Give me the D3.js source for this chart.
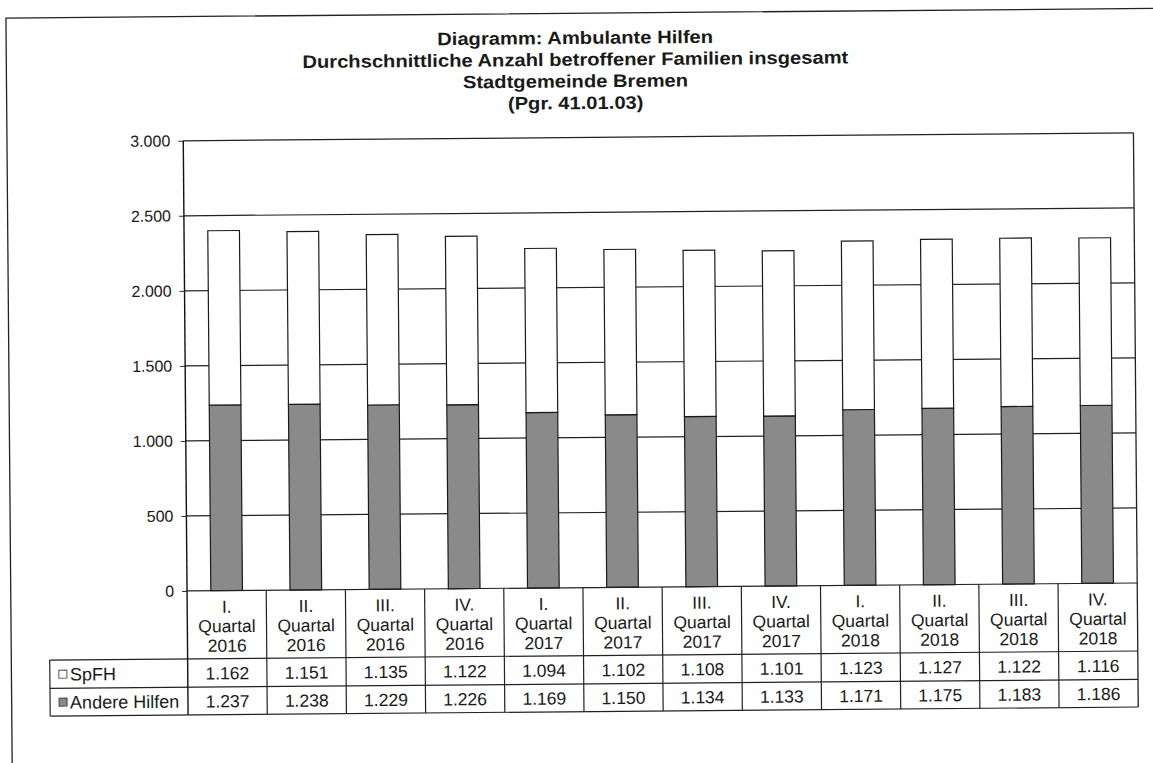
<!DOCTYPE html>
<html>
<head>
<meta charset="utf-8">
<script src="https://cdn.jsdelivr.net/npm/d3@7"></script>
<style>
  html, body { margin: 0; padding: 0; background: #fff; }
  svg { display: block; }
  text { font-family: "Liberation Sans", Arial, sans-serif; fill: #1a1a1a; }
</style>
</head>
<body>
<svg id="chart" width="1153" height="763"></svg>
<script>
var titleLines = [
  "Diagramm: Ambulante Hilfen",
  "Durchschnittliche Anzahl betroffener Familien insgesamt",
  "Stadtgemeinde Bremen",
  "(Pgr. 41.01.03)"
];
var categories = [
  "I. Quartal 2016", "II. Quartal 2016", "III. Quartal 2016", "IV. Quartal 2016",
  "I. Quartal 2017", "II. Quartal 2017", "III. Quartal 2017", "IV. Quartal 2017",
  "I. Quartal 2018", "II. Quartal 2018", "III. Quartal 2018", "IV. Quartal 2018"
];
var spfh   = [1162, 1151, 1135, 1122, 1094, 1102, 1108, 1101, 1123, 1127, 1122, 1116];
var andere = [1237, 1238, 1229, 1226, 1169, 1150, 1134, 1133, 1171, 1175, 1183, 1186];
var seriesNames = ["SpFH", "Andere Hilfen"];
var yTicks = [0, 500, 1000, 1500, 2000, 2500, 3000];

var de = d3.formatLocale({decimal: ",", thousands: ".", grouping: [3], currency: ["", " €"]});
var fmt = de.format(",d");

var grey = "#8a8a8a";

var svg = d3.select("#chart");
// the scan is slightly tilted
var root = svg.append("g").attr("transform", "rotate(-0.48,576,381)");

// outer frame (left + top only visible in the scan)
root.append("path")
  .attr("d", "M9,780V13.3H1170")
  .attr("fill", "none").attr("stroke", "#222").attr("stroke-width", 1.3);

// title (scan is a bit wider than tall, so stretch horizontally)
root.append("g")
  .attr("transform", "translate(578,0) scale(1.12,1)")
  .selectAll("text")
  .data(titleLines)
  .enter().append("text")
  .attr("x", 0)
  .attr("y", function(d, i) { return 44 + i * 21.7; })
  .attr("text-anchor", "middle")
  .style("font-size", "18px")
  .style("font-weight", "bold")
  .text(function(d) { return d; });

var plotL = 185.3, plotR = 1135.5, plotT = 137.5, plotB = 587.7;
var rowH = [655.7, 684, 711.7];
var legendLeft = 47.4;

var x = d3.scaleBand()
  .domain(categories)
  .range([plotL, plotR])
  .paddingInner(0.6)
  .paddingOuter(0.3);
var step = x.step();
var colLeft = function(d) { return x(d) - x.paddingOuter() * step; };

var y = d3.scaleLinear().domain([0, 3000]).range([plotB, plotT]);

// gridlines
root.append("g").selectAll("line")
  .data(yTicks.filter(function(v) { return v > 0; }))
  .enter().append("line")
  .attr("x1", plotL).attr("x2", plotR)
  .attr("y1", function(d) { return y(d); })
  .attr("y2", function(d) { return y(d); })
  .attr("stroke", "#222").attr("stroke-width", 1.2);

// right border of plot
root.append("line")
  .attr("x1", plotR).attr("x2", plotR)
  .attr("y1", plotT).attr("y2", rowH[2])
  .attr("stroke", "#222").attr("stroke-width", 1.3);

// y axis
var yAxis = d3.axisLeft(y)
  .tickValues(yTicks)
  .tickSize(5)
  .tickPadding(8)
  .tickFormat(fmt);
var ya = root.append("g")
  .attr("transform", "translate(" + plotL + ",0)")
  .call(yAxis);
ya.select(".domain").remove();
ya.selectAll(".tick line").attr("stroke", "#333");
ya.selectAll(".tick text")
  .style("font-size", "16px")
  .style("font-family", "'Liberation Sans', Arial, sans-serif")
  .attr("fill", "#2a2a2a");
root.append("line")
  .attr("x1", plotL).attr("x2", plotL)
  .attr("y1", plotT).attr("y2", rowH[2])
  .attr("stroke", "#111").attr("stroke-width", 1.4);

// stacked bars
var rows = categories.map(function(c, i) {
  return {cat: c, andere: andere[i], spfh: spfh[i]};
});
var stack = d3.stack().keys(["andere", "spfh"]);
var fills = {andere: grey, spfh: "#ffffff"};

root.append("g").selectAll("g")
  .data(stack(rows))
  .enter().append("g")
  .attr("fill", function(s) { return fills[s.key]; })
  .selectAll("rect")
  .data(function(s) { return s; })
  .enter().append("rect")
  .attr("x", function(d) { return x(d.data.cat); })
  .attr("width", x.bandwidth())
  .attr("y", function(d) { return y(d[1]); })
  .attr("height", function(d) { return y(d[0]) - y(d[1]); })
  .attr("stroke", "#1a1a1a")
  .attr("stroke-width", 1.2);

// data table
var table = root.append("g");
[plotB].concat(rowH).forEach(function(yy, i) {
  table.append("line")
    .attr("x1", i === 0 ? plotL : legendLeft).attr("x2", plotR)
    .attr("y1", yy).attr("y2", yy)
    .attr("stroke", "#222").attr("stroke-width", 1.2);
});
table.selectAll("line.col")
  .data(categories.slice(1))
  .enter().append("line")
  .attr("class", "col")
  .attr("x1", colLeft).attr("x2", colLeft)
  .attr("y1", plotB).attr("y2", rowH[2])
  .attr("stroke", "#222").attr("stroke-width", 1.2);
table.append("line")
  .attr("x1", legendLeft).attr("x2", legendLeft)
  .attr("y1", rowH[0]).attr("y2", rowH[2])
  .attr("stroke", "#222").attr("stroke-width", 1.2);

// category labels (3 lines)
table.selectAll("g.cat")
  .data(categories)
  .enter().append("g")
  .attr("class", "cat")
  .attr("transform", function(d) { return "translate(" + (x(d) + x.bandwidth() / 2) + "," + plotB + ")"; })
  .selectAll("text")
  .data(function(d) { return d.split(" "); })
  .enter().append("text")
  .attr("text-anchor", "middle")
  .attr("y", function(d, i) { return 22 + i * 19.5; })
  .style("font-size", "17.5px")
  .text(function(d) { return d; });

// value rows + legend cells
[spfh, andere].forEach(function(vals, r) {
  var cy = (rowH[r] + rowH[r + 1]) / 2;
  table.append("g").selectAll("text")
    .data(vals)
    .enter().append("text")
    .attr("x", function(d, i) { return x(categories[i]) + x.bandwidth() / 2; })
    .attr("y", cy + 6.5)
    .attr("text-anchor", "middle")
    .style("font-size", "17.5px")
    .text(function(d) { return fmt(d); });

  var lg = table.append("g");
  lg.append("rect")
    .attr("x", legendLeft + 9).attr("y", cy - 4)
    .attr("width", 8).attr("height", 8)
    .attr("fill", r === 0 ? "#fff" : grey)
    .attr("stroke", r === 0 ? "#555" : "#444")
    .attr("stroke-width", 1);
  lg.append("text")
    .attr("x", legendLeft + 20)
    .attr("y", cy + 6.5)
    .style("font-size", "18px")
    .text(seriesNames[r]);
});
</script>
</body>
</html>
